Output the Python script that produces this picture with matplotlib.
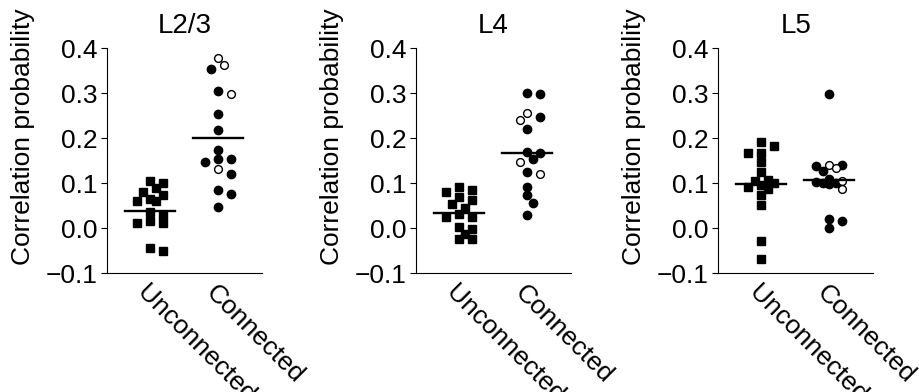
import numpy as np
import matplotlib.pyplot as plt

plt.rcParams['font.family'] = ['Liberation Sans', 'DejaVu Sans']

# panel titles and categories
layers = ['L2/3', 'L4', 'L5']
groups = ['Unconnected', 'Connected']
ytick_vals = [-0.1, 0.0, 0.1, 0.2, 0.3, 0.4]
ytick_text = ['\u22120.1', '0.0', '0.1', '0.2', '0.3', '0.4']

# L2/3
l23_unconn = [0.105, 0.101, 0.089, 0.081, 0.074, 0.064, 0.061, 0.061,
              0.035, 0.030, 0.015, 0.012, 0.012, -0.050, -0.043]
l23_conn_filled = [0.353, 0.305, 0.253, 0.218, 0.174, 0.153, 0.153, 0.148,
                   0.121, 0.085, 0.076, 0.048]
l23_conn_open = [0.378, 0.363, 0.298, 0.131]
l23_means = [0.038, 0.200]

# L4
l4_unconn = [0.085, 0.081, 0.091, 0.063, 0.069, 0.054, 0.046, 0.024,
             0.031, 0.024, 0.003, -0.001, -0.012, -0.023, -0.023]
l4_conn_filled = [0.300, 0.298, 0.246, 0.221, 0.169, 0.166, 0.153, 0.125,
                  0.092, 0.074, 0.057, 0.029]
l4_conn_open = [0.255, 0.240, 0.148, 0.121]
l4_means = [0.034, 0.168]

# L5
l5_unconn = [0.191, 0.182, 0.167, 0.167, 0.148, 0.125, 0.108, 0.104,
             0.100, 0.095, 0.091, 0.088, 0.073, 0.052, -0.028, -0.068]
l5_conn_filled = [0.298, 0.141, 0.139, 0.126, 0.110, 0.102, 0.100, 0.099,
                  0.100, 0.021, 0.016, 0.001]
l5_conn_open = [0.141, 0.134, 0.104, 0.088]
l5_means = [0.099, 0.106]

data = [
    (l23_unconn, l23_conn_filled, l23_conn_open, l23_means),
    (l4_unconn, l4_conn_filled, l4_conn_open, l4_means),
    (l5_unconn, l5_conn_filled, l5_conn_open, l5_means),
]

PX_X = 68.0   # pixels per x unit
PX_Y = 450.0  # pixels per y unit
FS = 19


def swarm(vals, d=8.0, step=6.5):
    # simple beeswarm limited to +-2 slots, overlaps allowed when crowded
    vals = np.asarray(vals)
    order = np.argsort(vals)[::-1]
    cands = [0, 1, -1, 2, -2]
    placed = []
    off = np.zeros(len(vals))
    for i in order:
        y = vals[i] * PX_Y
        best, best_d = 0.0, -1.0
        for c in cands:
            x = c * step
            dmin = min([np.hypot(x - px, y - py) for px, py in placed] + [1e9])
            if dmin >= d:
                best = x
                break
            if dmin > best_d:
                best, best_d = x, dmin
        placed.append((best, y))
        off[i] = best / PX_X
    return off


fig = plt.figure(figsize=(9.19, 3.92), dpi=100)
lefts = [0.1164, 0.4527, 0.7816]

for name, left, (unconn, filled, opn, means) in zip(layers, lefts, data):
    ax = fig.add_axes([left, 0.3028, 0.1687, 0.5747])

    ux = swarm(unconn)
    ax.plot(0 + ux, unconn, 's', color='black', ms=6.2, mec='black', zorder=3)

    conn = list(filled) + list(opn)
    cx = swarm(conn)
    nf = len(filled)
    ax.plot(1 + cx[:nf], filled, 'o', color='black', ms=6.0, zorder=3)
    ax.plot(1 + cx[nf:], opn, 'o', mfc='white', mec='black', ms=5.6,
            mew=1.0, zorder=4)

    for xc, m in zip([0, 1], means):
        ax.plot([xc - 0.37, xc + 0.37], [m, m], color='black', lw=1.7, zorder=5)

    ax.set_xlim(-0.63, 1.65)
    ax.set_ylim(-0.1, 0.4)
    ax.set_yticks(ytick_vals)
    ax.set_yticklabels(ytick_text, fontsize=FS)
    ax.set_xticks([0, 1])
    ax.set_xticklabels(groups, fontsize=FS, rotation=-45, ha='left',
                       va='top', rotation_mode='anchor')
    ax.tick_params(axis='x', length=0, pad=5)
    ax.tick_params(axis='y', length=4, width=0.8, pad=3)
    ax.spines['top'].set_visible(False)
    ax.spines['right'].set_visible(False)
    ax.spines['left'].set_linewidth(0.8)
    ax.spines['bottom'].set_linewidth(0.8)
    ax.set_title(name, fontsize=20, pad=11)
    ax.set_ylabel('Correlation probability', fontsize=FS)
    ax.yaxis.set_label_coords(-0.465, 0.605)

fig.savefig('out.png', dpi=100)
